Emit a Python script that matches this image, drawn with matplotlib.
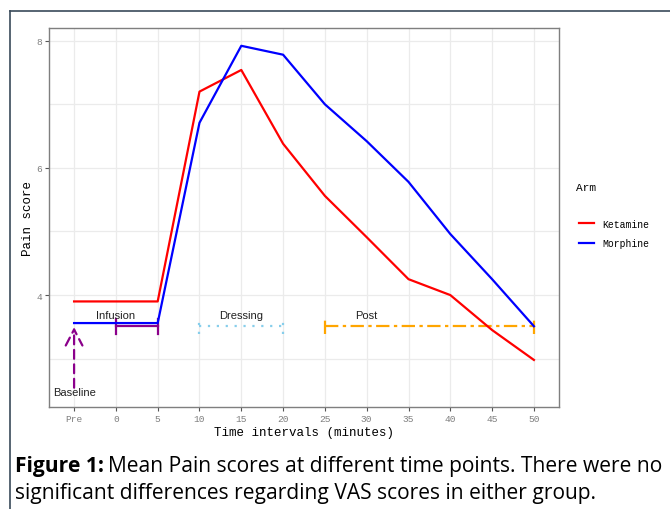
import matplotlib
matplotlib.use("Agg")
import matplotlib.pyplot as plt
from matplotlib.lines import Line2D

# ---- data ----
time_labels = ["Pre", "0", "5", "10", "15", "20", "25", "30", "35", "40", "45", "50"]
ketamine = [3.9, 3.9, 3.9, 7.2, 7.54, 6.38, 5.56, 4.91, 4.25, 4.0, 3.45, 2.98]
morphine = [3.56, 3.56, 3.56, 6.71, 7.92, 7.78, 7.0, 6.42, 5.78, 4.96, 4.25, 3.51]
y_ticks = [4, 6, 8]
phases = ["Infusion", "Dressing", "Post"]
phase_start = ["0", "10", "25"]
phase_end = ["5", "20", "50"]
phase_level = 3.51
label_level = 3.68
baseline_from = 2.5
baseline_to = 3.54
baseline_text_y = 2.48

mono = "Liberation Mono"
sans = "Liberation Sans"

fig = plt.figure(figsize=(6.7, 5.1), dpi=100)
ax = fig.add_axes([49/670, 1-408/510, 510/670, 379/510])

x = list(range(len(time_labels)))
ax.plot(x, ketamine, color="#ff0000", lw=1.6, label="Ketamine", zorder=4)
ax.plot(x, morphine, color="#0000ff", lw=1.6, label="Morphine", zorder=4)

ax.set_xlim(-0.6, len(time_labels) - 1 + 0.6)
ax.set_ylim(2.24, 8.2)
ax.set_xticks(x)
ax.set_xticklabels(time_labels)
ax.set_yticks(y_ticks)
ax.set_yticks([3, 5, 7], minor=True)
ax.grid(True, which="major", color="#ebebeb", lw=0.9, zorder=0)
ax.grid(True, which="minor", axis="y", color="#ebebeb", lw=0.9, zorder=0)
ax.tick_params(which="minor", length=0)
ax.tick_params(which="major", length=3, color="#555555", width=0.8,
               labelsize=6.8, labelcolor="#7f7f7f", pad=2)
for lab in ax.get_xticklabels() + ax.get_yticklabels():
    lab.set_fontfamily(mono)
for s in ax.spines.values():
    s.set_color("#7f7f7f")
    s.set_linewidth(1.0)
ax.set_axisbelow(True)

ax.set_xlabel("Time intervals (minutes)", fontfamily=mono, fontsize=9, labelpad=2)
ax.set_ylabel("Pain score", fontfamily=mono, fontsize=9, labelpad=2)

# phase bars
styles = {
    "Infusion": dict(color="#8b008b", ls="-", lw=1.6),
    "Dressing": dict(color="#87ceeb", ls=(0, (1, 3)), lw=1.6),
    "Post": dict(color="#ffa500", ls=(0, (6, 2, 1.5, 2)), lw=1.6),
}
cap = 0.12
for name, a, b in zip(phases, phase_start, phase_end):
    xa = time_labels.index(a)
    xb = time_labels.index(b)
    st = styles[name]
    ax.plot([xa, xb], [phase_level, phase_level], zorder=3, **st)
    for xc in (xa, xb):
        ax.plot([xc, xc], [phase_level - cap, phase_level + cap], zorder=3, **st)
    if name == "Infusion":
        tx = xa
    elif name == "Dressing":
        tx = (xa + xb) / 2
    else:
        tx = time_labels.index("30")
    ax.text(tx, label_level, name, ha="center", va="center", fontsize=8,
            fontfamily=sans, color="#222222", zorder=5)

# baseline arrow
xp = time_labels.index("Pre")
ax.annotate("", xy=(xp, baseline_to), xytext=(xp, baseline_from),
            arrowprops=dict(arrowstyle="->,head_length=1.15,head_width=0.6",
                            color="#8b008b", lw=1.6, ls=(0, (4, 2.5))), zorder=3)
ax.text(xp, baseline_text_y, "Baseline", ha="center", va="center", fontsize=8,
        fontfamily=sans, color="#222222", zorder=5)

# legend
fig.text(576/670, 1-188/510, "Arm", fontfamily=mono, fontsize=8, ha="left", va="center")
handles = [Line2D([0], [0], color="#ff0000", lw=1.6),
           Line2D([0], [0], color="#0000ff", lw=1.6)]
leg = fig.legend(handles, ["Ketamine", "Morphine"], loc="upper left",
                 bbox_to_anchor=(570/670, 1-211/510), frameon=False,
                 prop={"family": mono, "size": 7}, handlelength=1.6,
                 handletextpad=0.8, labelspacing=1.0)

# outer frame
fig.add_artist(Line2D([10/670, 10/670], [0, 1-12/510], color="#3a4a5a", lw=1.2,
                      transform=fig.transFigure))
fig.add_artist(Line2D([10/670, 1], [1-12/510, 1-12/510], color="#3a4a5a", lw=1.2,
                      transform=fig.transFigure))

# caption
cap_font = "Open Sans"
fs = 14
t1 = fig.text(15/670, 1-467/510, "Figure 1:", fontsize=fs, fontweight="bold",
              ha="left", va="center", fontfamily=cap_font)
fig.canvas.draw()
bb = t1.get_window_extent()
t2 = fig.text(bb.x1/fig.bbox.width + 4/670, 1-467/510,
              "Mean Pain scores at different time points. There were no",
              fontsize=fs, ha="left", va="center", fontfamily=cap_font)
t3 = fig.text(15/670, 1-494/510,
              "significant differences regarding VAS scores in either group.",
              fontsize=fs, ha="left", va="center", fontfamily=cap_font)
fig.canvas.draw()
w = t2.get_window_extent().x1 - 15
scale = 650 / w
fs2 = fs * scale
t1.set_fontsize(fs2)
fig.canvas.draw()
bb = t1.get_window_extent()
t2.set_fontsize(fs2)
t2.set_x(bb.x1/fig.bbox.width + 4/670)
t3.set_fontsize(fs2)

fig.savefig("out.png", dpi=100)
